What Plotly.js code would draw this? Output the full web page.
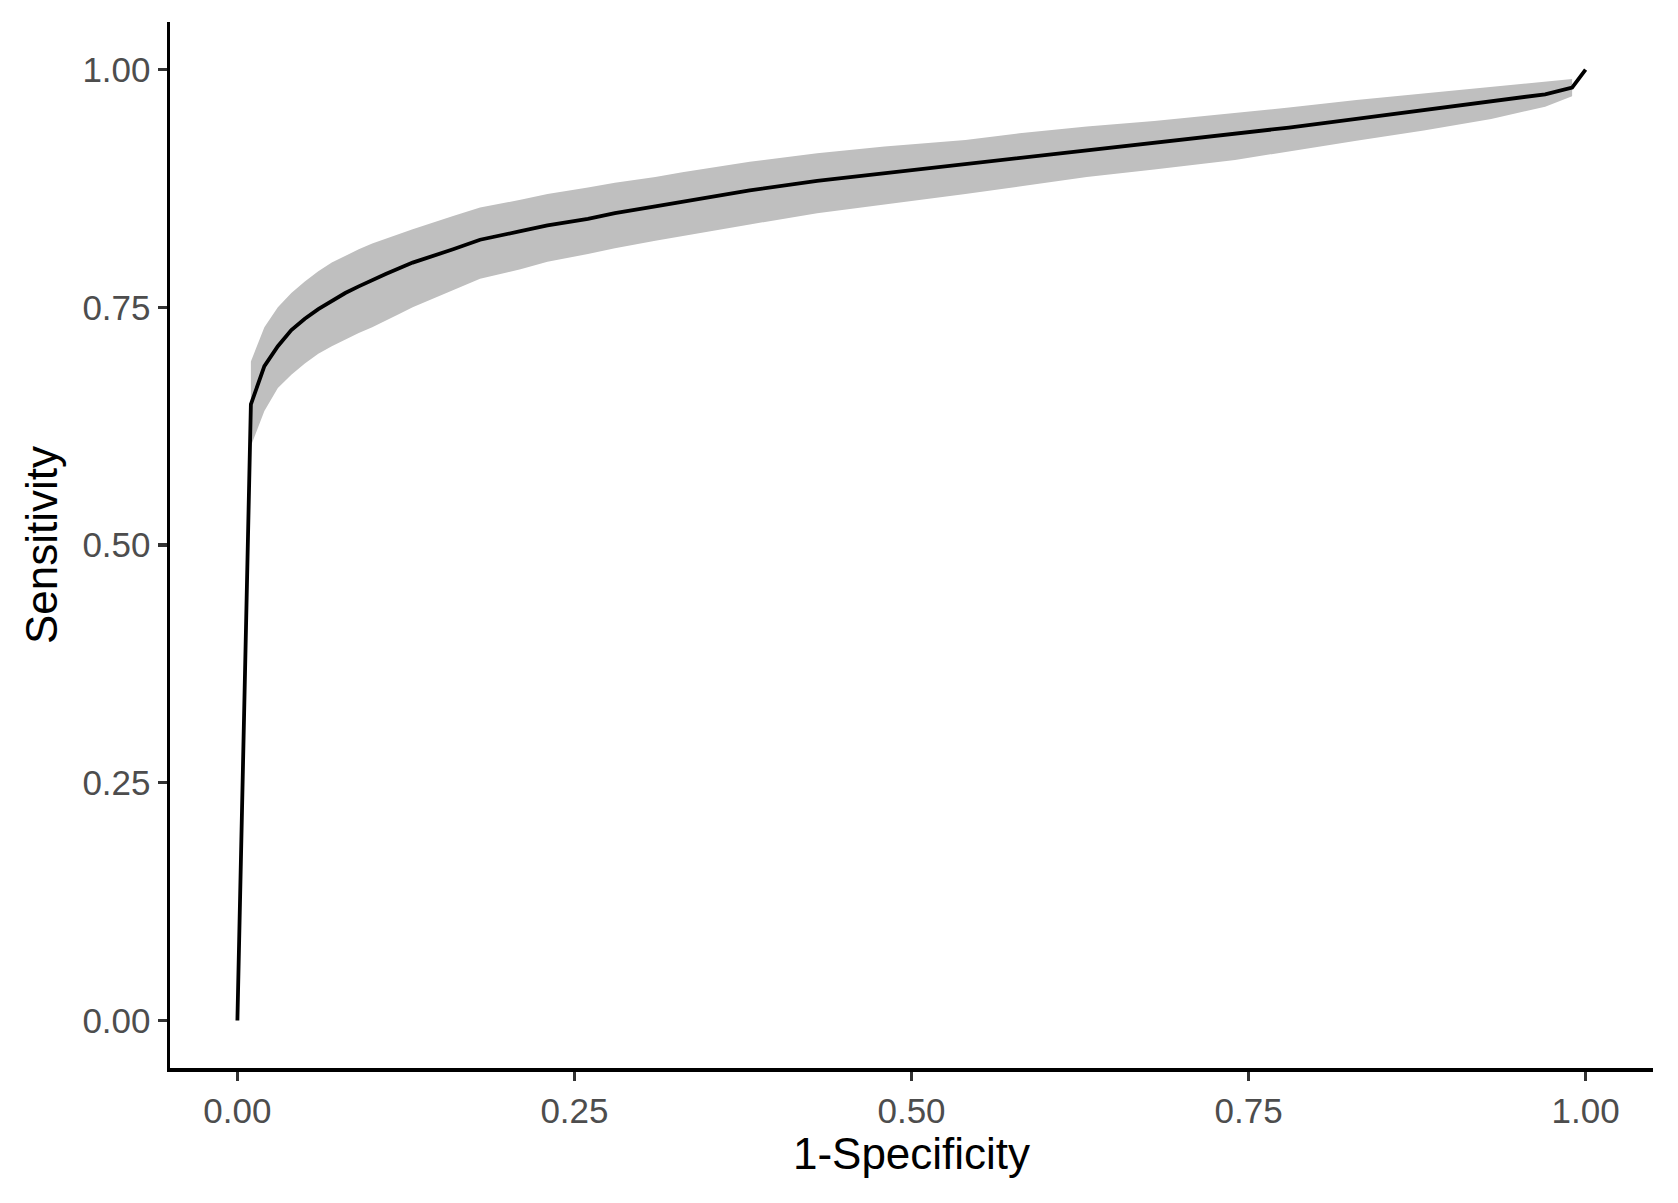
<!DOCTYPE html>
<html>
<head>
<meta charset="utf-8">
<script src="https://cdn.plot.ly/plotly-3.0.1.min.js"></script>
<style>html,body{margin:0;padding:0;background:#fff;}#chart{width:1678px;height:1203px;}</style>
</head>
<body>
<div id="chart"></div>
<script>
// ROC curve (1-Specificity vs Sensitivity)
const fpr = [0, 0.01, 0.02, 0.03, 0.04, 0.05, 0.06, 0.07, 0.08, 0.09, 0.10, 0.11, 0.12, 0.13,
  0.16, 0.18, 0.21, 0.23, 0.26, 0.28, 0.31, 0.33, 0.38, 0.43, 0.48, 0.54,
  0.58, 0.63, 0.68, 0.74, 0.78, 0.83, 0.88, 0.93, 0.97, 0.99, 1.00];
const sensitivity = [0, 0.648, 0.688, 0.709, 0.726, 0.738, 0.748, 0.757, 0.765, 0.772, 0.779, 0.785, 0.791, 0.797,
  0.811, 0.821, 0.830, 0.836, 0.843, 0.849, 0.856, 0.861, 0.873, 0.883, 0.891, 0.900,
  0.907, 0.915, 0.923, 0.932, 0.939, 0.948, 0.957, 0.966, 0.974, 0.981, 1.0];

// Confidence band
const bandFpr = [0.01, 0.02, 0.03, 0.04, 0.05, 0.06, 0.07, 0.08, 0.09, 0.10, 0.11, 0.12, 0.13,
  0.16, 0.18, 0.21, 0.23, 0.26, 0.28, 0.31, 0.33, 0.38, 0.43, 0.48, 0.54,
  0.58, 0.63, 0.68, 0.74, 0.78, 0.83, 0.88, 0.93, 0.97, 0.99];
const bandUpper = [0.693, 0.729, 0.750, 0.765, 0.777, 0.788, 0.797, 0.804, 0.811, 0.817, 0.822, 0.827, 0.832,
  0.846, 0.855, 0.863, 0.869, 0.876, 0.881, 0.887, 0.892, 0.903, 0.912, 0.919, 0.926,
  0.933, 0.940, 0.946, 0.954, 0.960, 0.968, 0.975, 0.982, 0.987, 0.990];
const bandLower = [0.604, 0.641, 0.665, 0.679, 0.691, 0.701, 0.709, 0.716, 0.723, 0.729, 0.736, 0.743, 0.750,
  0.768, 0.780, 0.790, 0.798, 0.806, 0.812, 0.820, 0.825, 0.837, 0.849, 0.858, 0.869,
  0.877, 0.887, 0.895, 0.905, 0.914, 0.925, 0.936, 0.948, 0.961, 0.972];

const tickVals = [0, 0.25, 0.5, 0.75, 1];
const tickText = ['0.00', '0.25', '0.50', '0.75', '1.00'];

const polyX = bandFpr.concat(bandFpr.slice().reverse());
const polyY = bandUpper.concat(bandLower.slice().reverse());

const traces = [
  {x: polyX, y: polyY, type: 'scatter', mode: 'lines', fill: 'toself',
   fillcolor: '#BFBFBF', line: {width: 0, color: 'rgba(0,0,0,0)'}, hoverinfo: 'skip', showlegend: false},
  {x: fpr, y: sensitivity, type: 'scatter', mode: 'lines',
   line: {color: '#000000', width: 3.8}, showlegend: false}
];

const fontFam = 'Liberation Sans, Arial, sans-serif';
const axisCommon = {
  showgrid: false, zeroline: false, showline: true, linecolor: '#000000', linewidth: 3.5,
  ticks: 'outside', ticklen: 9, tickwidth: 3.2, tickcolor: '#333333',
  tickfont: {family: fontFam, size: 35, color: '#4D4D4D'},
  tickmode: 'array', tickvals: tickVals, ticktext: tickText, automargin: false
};

const layout = {
  width: 1678, height: 1203,
  margin: {l: 170, r: 25, t: 22, b: 135},
  paper_bgcolor: '#FFFFFF', plot_bgcolor: '#FFFFFF',
  showlegend: false,
  xaxis: Object.assign({}, axisCommon, {
    range: [-0.05, 1.05],
    title: {text: '1-Specificity', font: {family: fontFam, size: 44, color: '#000000'}, standoff: 8}
  }),
  yaxis: Object.assign({}, axisCommon, {
    range: [-0.05, 1.05],
    title: {text: 'Sensitivity', font: {family: fontFam, size: 44, color: '#000000'}, standoff: 12}
  })
};

Plotly.newPlot('chart', traces, layout, {displayModeBar: false, staticPlot: true});
</script>
</body>
</html>
